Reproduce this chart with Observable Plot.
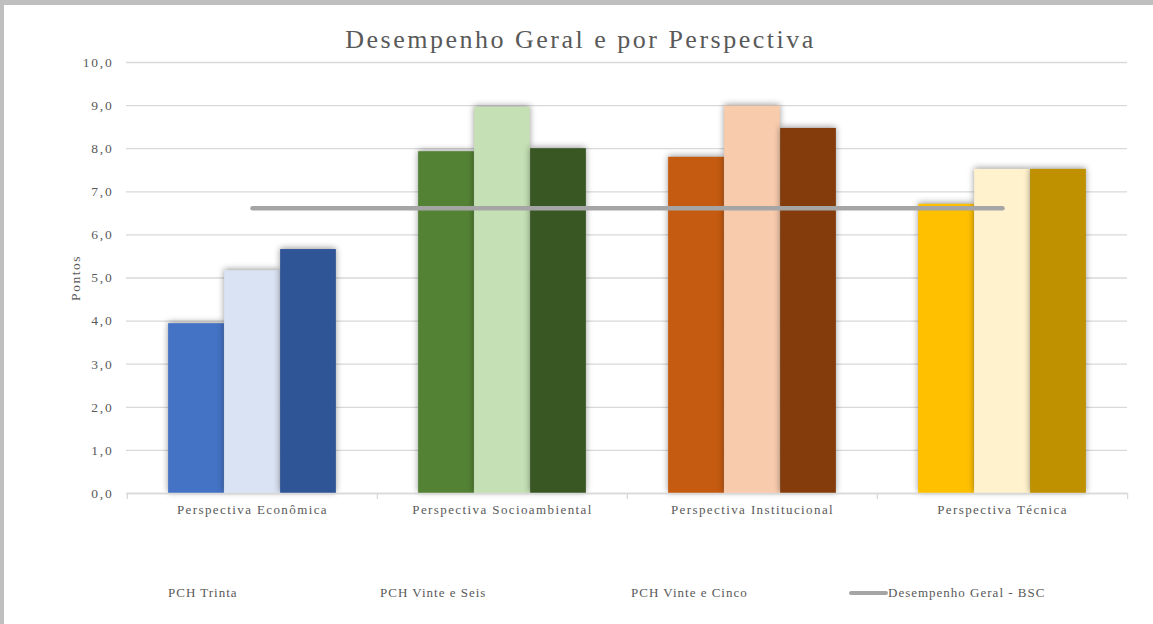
<!DOCTYPE html>
<html>
<head>
<meta charset="utf-8">
<script src="https://cdn.jsdelivr.net/npm/d3@7"></script>
<script src="https://cdn.jsdelivr.net/npm/@observablehq/plot@0.6"></script>
<style>
  body { margin: 0; background: #fff; }
  #frame {
    position: relative; width: 1153px; height: 624px; overflow: hidden; background: #fff;
    font-family: "Liberation Serif", "Times New Roman", serif; color: #595959;
    border-top: 5px solid #bfbfbf; border-left: 4px solid #bfbfbf; box-sizing: border-box;
  }
  #title {
    position: absolute; top: 20px; left: 0px; width: 1153px; text-align: center;
    font-size: 26px; letter-spacing: 2.5px; color: #595959;
  }
  #chart { position: absolute; top: 50px; left: -4px; }
  #legend { position: absolute; top: 580px; left: -4px; width: 1153px; height: 24px; font-size: 13px; letter-spacing: 1px; color: #595959; }
  #legend span { position: absolute; top: 0; white-space: nowrap; }
  #legend .swatch { display: inline-block; width: 39px; height: 4px; background: #a5a5a5; border-radius: 2px; vertical-align: middle; position: relative; top: -1px; }
  .bars rect { filter: drop-shadow(0 -1px 3px rgba(0,0,0,0.4)); }
  #chart [aria-label="x-axis tick label"] text { letter-spacing: 1.4px; }
  #chart [aria-label="y-axis tick label"] text { letter-spacing: 1.8px; }
  #chart [aria-label="y-axis label"] text { letter-spacing: 1.5px; }
</style>
</head>
<body>
<div id="frame">
  <div id="title">Desempenho Geral e por Perspectiva</div>
  <div id="chart"></div>
  <div id="legend"></div>
</div>
<script>
// Perspectives on the x axis
const categories = ["Perspectiva Econômica", "Perspectiva Socioambiental", "Perspectiva Institucional", "Perspectiva Técnica"];
// Plants (series), in bar order within each group
const series = ["PCH Trinta", "PCH Vinte e Seis", "PCH Vinte e Cinco"];
// Scores per plant, one value per perspective
const trinta = [3.94, 7.93, 7.80, 6.71];
const vinteSeis = [5.17, 8.96, 8.99, 7.52];
const vinteCinco = [5.66, 8.00, 8.47, 7.52];
// Overall BSC score, drawn across all perspectives
const geral = [6.62, 6.62, 6.62, 6.62];
const geralLabel = "Desempenho Geral - BSC";
// Bar colours: one shade per plant within each perspective
const palette = [
  ["#4472C4", "#DAE3F3", "#2F5597"],
  ["#548235", "#C5E0B4", "#385723"],
  ["#C55A11", "#F8CBAD", "#843C0C"],
  ["#FFC000", "#FFF2CC", "#BF9000"]
];
const yTicks = [0, 1, 2, 3, 4, 5, 6, 7, 8, 9, 10];

const seriesValues = [trinta, vinteSeis, vinteCinco];
const rows = [];
seriesValues.forEach((vals, s) => vals.forEach((v, c) => rows.push({
  category: categories[c], series: series[s], s, value: v, color: palette[c][s]
})));
const lineRows = categories.map((c, i) => ({category: c, value: geral[i]}));

const W = 1153, H = 480;
const mL = 126, mR = 26, mT = 7, mB = 42;
const band = (W - mL - mR) / categories.length;
const barW = 56;
const inset = (band - barW) / 2;
const grid = "#d9d9d9";
const fmt = d => d.toFixed(1).replace(".", ",");

const barMarks = series.map((name, s) => Plot.barY(rows.filter(r => r.s === s), {
  x: "category", y: "value", fill: "color",
  insetLeft: inset, insetRight: inset, dx: (s - 1) * barW,
  className: "bars"
}));

const plot = Plot.plot({
  width: W, height: H,
  marginLeft: mL, marginRight: mR, marginTop: mT, marginBottom: mB,
  style: { fontFamily: "'Liberation Serif', 'Times New Roman', serif", fontSize: "13px", color: "#595959", background: "transparent" },
  x: { type: "band", domain: categories, padding: 0 },
  y: { domain: [0, 10] },
  color: { type: "identity" },
  marks: [
    Plot.gridY(yTicks, { stroke: grid, strokeOpacity: 1, strokeWidth: 1.3 }),
    Plot.axisY(yTicks, {
      tickSize: 0, tickPadding: 13, tickFormat: fmt, fill: "#595959",
      label: "Pontos", labelAnchor: "center", labelArrow: "none", labelOffset: 56,
      fontSize: 13.5
    }),
    Plot.ruleX(categories, { x: d => d, y1: 0, y2: 0, insetBottom: -6, dx: -band / 2, stroke: grid, strokeWidth: 1.3 }),
    Plot.ruleX(categories.slice(-1), { x: d => d, y1: 0, y2: 0, insetBottom: -6, dx: band / 2, stroke: grid, strokeWidth: 1.3 }),
    ...barMarks,
    Plot.ruleY([0], { stroke: grid, strokeWidth: 1.3 }),
    Plot.lineY(lineRows, { x: "category", y: "value", stroke: "#A5A5A5", strokeWidth: 4.5, strokeLinecap: "round" }),
    Plot.axisX({ tickSize: 0, tickPadding: 11, label: null, fill: "#595959", fontSize: 13 })
  ]
});
document.getElementById("chart").appendChild(plot);

// Legend below the chart
const legend = document.getElementById("legend");
const legendPos = [168, 380, 631];
series.forEach((name, i) => {
  const el = document.createElement("span");
  el.style.left = legendPos[i] + "px";
  el.textContent = name;
  legend.appendChild(el);
});
const lg = document.createElement("span");
lg.style.left = "849px";
lg.innerHTML = '<span class="swatch" style="position:relative;display:inline-block"></span>';
lg.appendChild(document.createTextNode(geralLabel));
legend.appendChild(lg);
</script>
</body>
</html>
